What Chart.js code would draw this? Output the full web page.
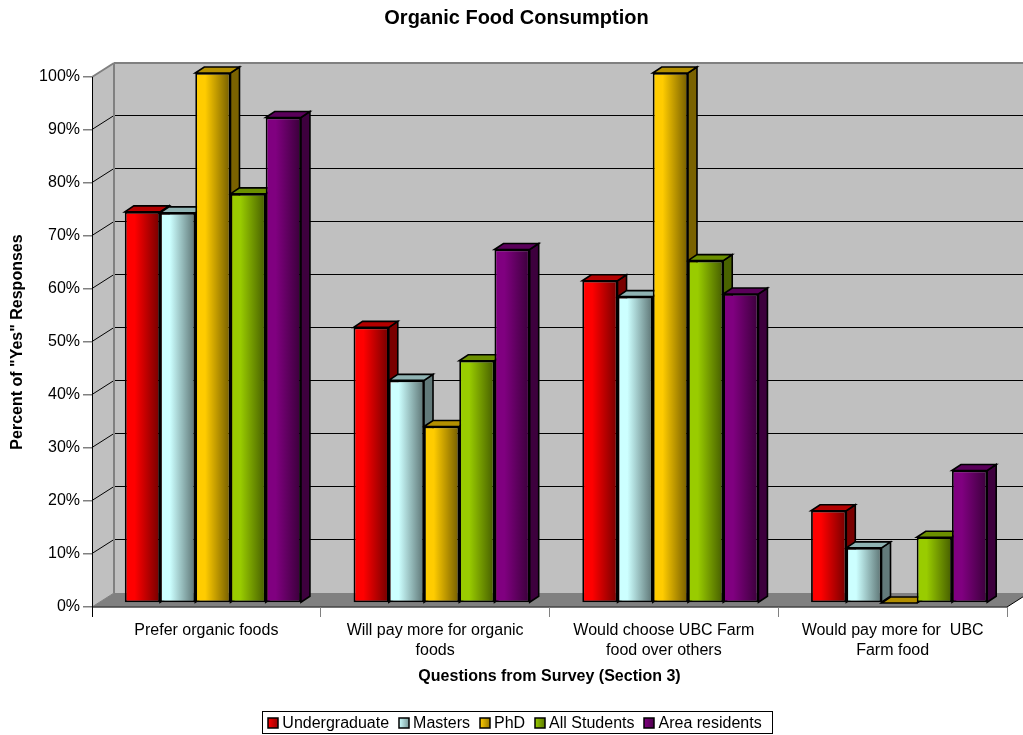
<!DOCTYPE html>
<html>
<head>
<meta charset="utf-8">
<title>Organic Food Consumption</title>
<script src="https://cdn.jsdelivr.net/npm/chart.js@4"></script>
<style>
  html, body { margin: 0; padding: 0; background: #fff; overflow: hidden; }
  #wrap { position: relative; width: 1023px; height: 735px; }
</style>
</head>
<body>
<div id="wrap"><canvas id="chart" width="1023" height="735"></canvas></div>
<script>
const categories = [
  'Prefer organic foods',
  ['Will pay more for organic', 'foods'],
  ['Would choose UBC Farm', 'food over others'],
  ['Would pay more for  UBC', 'Farm food']
];
const undergraduate = [73.8, 52.0, 60.8, 17.4];
const masters       = [73.6, 42.0, 57.8, 10.4];
const phd           = [100, 33.3, 100, 0];
const allStudents   = [77.2, 45.7, 64.6, 12.4];
const areaResidents = [91.6, 66.7, 58.3, 25.0];

const seriesNames  = ['Undergraduate', 'Masters', 'PhD', 'All Students', 'Area residents'];
const seriesValues = [undergraduate, masters, phd, allStudents, areaResidents];
const seriesRGB    = [[255, 0, 0], [204, 255, 255], [255, 204, 0], [153, 204, 0], [128, 0, 128]];

const FONT = '"Liberation Sans", Arial, sans-serif';
const GROUP_SHARE = 0.77;
const FLOOR_DEPTH = { x: 22, y: -14 };   // how far the back wall sits behind the axis plane
const BAR_OFFSET  = { x: 6.5, y: -4 };   // where the bar fronts sit on the floor
const BAR_DEPTH   = { x: 9, y: -6 };     // depth of each bar
const SWATCH = 10;
const LEGEND_PAD = 9;

const shade = (rgb, f) => `rgb(${rgb.map(c => Math.round(c * f)).join(',')})`;

// Each bar front fades from its full colour to a darker tone, left to right.
function frontFill(context, rgb) {
  const { chart, dataIndex, datasetIndex } = context;
  const xs = chart.scales.x;
  if (dataIndex === undefined || !xs) return shade(rgb, 1);
  const centre = xs.getPixelForValue(dataIndex);
  const band = xs.width / categories.length * GROUP_SHARE;
  const w = band / seriesNames.length;
  const left = centre - band / 2 + datasetIndex * w;
  if (!isFinite(left) || !isFinite(w)) return shade(rgb, 1);
  const g = chart.ctx.createLinearGradient(left, 0, left + w, 0);
  g.addColorStop(0, shade(rgb, 1));
  g.addColorStop(0.28, shade(rgb, 1));
  g.addColorStop(1, shade(rgb, 0.45));
  return g;
}

function polygon(ctx, pts, fill, stroke, lw) {
  ctx.beginPath();
  pts.forEach((p, i) => (i ? ctx.lineTo(p[0], p[1]) : ctx.moveTo(p[0], p[1])));
  ctx.closePath();
  if (fill) { ctx.fillStyle = fill; ctx.fill(); }
  if (stroke) { ctx.strokeStyle = stroke; ctx.lineWidth = lw; ctx.stroke(); }
}

function segment(ctx, x1, y1, x2, y2, color, lw) {
  ctx.beginPath();
  ctx.moveTo(x1, y1);
  ctx.lineTo(x2, y2);
  ctx.strokeStyle = color;
  ctx.lineWidth = lw;
  ctx.stroke();
}

const box3d = {
  id: 'box3d',
  afterLayout(chart) {
    // Title and legend are centred on their own lines rather than on the plot.
    const shiftBox = (b, d) => { b.left += d; b.right += d; };
    shiftBox(chart.titleBlock, 13);
    shiftBox(chart.legend, 11);
    chart.legend.top += 7.6;
    chart.legend.bottom += 7.6;
    chart.legend.adjustHitBoxes();
  },
  beforeDraw(chart) {
    const { ctx, chartArea: a, scales: { y } } = chart;
    const dx = FLOOR_DEPTH.x, dy = FLOOR_DEPTH.y;
    const wall = '#c0c0c0', edge = '#808080';
    ctx.save();
    ctx.fillStyle = wall;
    ctx.fillRect(a.left + dx, a.top + dy, a.width, a.height);
    polygon(ctx, [[a.left, a.top], [a.left + dx, a.top + dy], [a.left + dx, a.bottom + dy], [a.left, a.bottom]], wall);
    polygon(ctx, [[a.left, a.bottom], [a.left + dx, a.bottom + dy], [a.right + dx, a.bottom + dy], [a.right, a.bottom]], edge);
    y.ticks.forEach(t => {
      if (t.value === 0 || t.value === 100) return;
      const py = y.getPixelForValue(t.value) - 0.5;
      segment(ctx, a.left, py, a.left + dx, py + dy, '#000', 1);
      segment(ctx, a.left + dx, py + dy, a.right + dx, py + dy, '#000', 1.2);
    });
    segment(ctx, a.left, a.top, a.left + dx, a.top + dy, edge, 2);
    segment(ctx, a.left + dx, a.top + dy, a.right + dx, a.top + dy, edge, 2);
    segment(ctx, a.left + dx, a.top + dy, a.left + dx, a.bottom + dy, edge, 2);
    segment(ctx, a.left, a.bottom, a.left + dx, a.bottom + dy, edge, 1);
    segment(ctx, a.right, a.bottom, a.right + dx, a.bottom + dy, '#000', 1);
    segment(ctx, a.left, a.bottom, a.right, a.bottom, '#444', 1.5);
    ctx.restore();
  },
  beforeDatasetsDraw(chart) {
    const { ctx } = chart;
    ctx.save();
    ctx.translate(BAR_OFFSET.x, BAR_OFFSET.y);
    // Side and top faces go down first, left to right, so that the fronts cover them.
    for (let c = 0; c < categories.length; c++) {
      seriesRGB.forEach((rgb, s) => {
        const el = chart.getDatasetMeta(s).data[c];
        const l = el.x - el.width / 2, r = el.x + el.width / 2;
        const t = el.y, b = el.base;
        const dx = BAR_DEPTH.x, dy = BAR_DEPTH.y;
        polygon(ctx, [[r, t], [r + dx, t + dy], [r + dx, b + dy], [r, b]], shade(rgb, 0.48), '#000', 1.6);
        polygon(ctx, [[l, t], [l + dx, t + dy], [r + dx, t + dy], [r, t]], shade(rgb, 0.7), '#000', 1.6);
      });
    }
  },
  afterDatasetsDraw(chart) {
    chart.ctx.restore();
  },
  afterDraw(chart) {
    const { ctx, legend } = chart;
    const hits = legend.legendHitBoxes;
    const first = hits[0], last = hits[hits.length - 1];
    const midY = Math.round(legend.top + LEGEND_PAD + 16 * 1.2 / 2 - 2);
    ctx.save();
    ctx.strokeStyle = '#000';
    ctx.lineWidth = 1;
    ctx.strokeRect(Math.round(first.left) - 4.5, midY - 11.5,
                   Math.round(last.left + last.width - first.left) + 16, 22);
    // Legend keys carry the same left-to-right fade as the bars.
    hits.forEach((h, i) => {
      const sx = Math.round(h.left) + 1;
      const g = ctx.createLinearGradient(sx, 0, sx + SWATCH, 0);
      g.addColorStop(0, shade(seriesRGB[i], 1));
      g.addColorStop(1, shade(seriesRGB[i], 0.6));
      ctx.fillStyle = g;
      ctx.fillRect(sx, midY - SWATCH / 2, SWATCH, SWATCH);
      ctx.strokeStyle = '#000';
      ctx.lineWidth = 1.5;
      ctx.strokeRect(sx, midY - SWATCH / 2, SWATCH, SWATCH);
    });
    ctx.restore();
  }
};

new Chart(document.getElementById('chart'), {
  type: 'bar',
  data: {
    labels: categories,
    datasets: seriesNames.map((name, i) => ({
      label: name,
      data: seriesValues[i],
      backgroundColor: c => frontFill(c, seriesRGB[i]),
      borderColor: '#000',
      borderWidth: 1.8,
      borderSkipped: false,
      categoryPercentage: GROUP_SHARE,
      barPercentage: 1
    }))
  },
  plugins: [box3d],
  options: {
    responsive: false,
    animation: false,
    layout: { padding: { left: 0, right: 16, top: 0, bottom: 1 } },
    plugins: {
      tooltip: { enabled: false },
      title: {
        display: true,
        text: 'Organic Food Consumption',
        color: '#000',
        font: { family: FONT, size: 20, weight: 'bold', lineHeight: 1.2 },
        padding: { top: 6, bottom: 47 }
      },
      legend: {
        position: 'bottom',
        onClick: null,
        labels: {
          color: '#000',
          font: { family: FONT, size: 16, lineHeight: 1.2 },
          boxWidth: 7,
          boxHeight: 7,
          padding: LEGEND_PAD,
          generateLabels: () => seriesNames.map((name, i) => ({
            text: name,
            fillStyle: 'rgba(0,0,0,0)',
            strokeStyle: 'rgba(0,0,0,0)',
            lineWidth: 0,
            datasetIndex: i
          }))
        }
      }
    },
    scales: {
      x: {
        type: 'category',
        offset: true,
        afterFit(scale) {
          const c = scale.chart;
          scale.height = 735 - 607 - c.legend.height - c.options.layout.padding.bottom;
        },
        grid: {
          drawOnChartArea: false,
          drawTicks: true,
          tickLength: 10,
          offset: true,
          color: c => (c.index === 0 || c.index === categories.length ? '#000' : '#808080'),
          lineWidth: 1
        },
        border: { display: false },
        ticks: {
          color: '#000',
          font: { family: FONT, size: 16, lineHeight: 1.25 },
          maxRotation: 0,
          minRotation: 0,
          autoSkip: false,
          padding: 4
        },
        title: {
          display: true,
          text: 'Questions from Survey (Section 3)',
          color: '#000',
          font: { family: FONT, size: 16, weight: 'bold', lineHeight: 1.2 },
          padding: { top: 0, bottom: 13 }
        }
      },
      y: {
        min: 0,
        max: 100,
        afterFit(scale) { scale.width = 92; },
        grid: {
          drawOnChartArea: false,
          drawTicks: true,
          tickLength: 9,
          color: '#808080',
          lineWidth: 1.5
        },
        border: { display: true, color: '#000', width: 1 },
        ticks: {
          stepSize: 10,
          color: '#000',
          font: { family: FONT, size: 16 },
          padding: 3,
          callback: v => v + '%'
        },
        title: {
          display: true,
          text: 'Percent of "Yes" Responses',
          color: '#000',
          font: { family: FONT, size: 16, weight: 'bold', lineHeight: 1.2 },
          padding: { top: 8, bottom: 0 }
        }
      }
    }
  }
});
</script>
</body>
</html>
